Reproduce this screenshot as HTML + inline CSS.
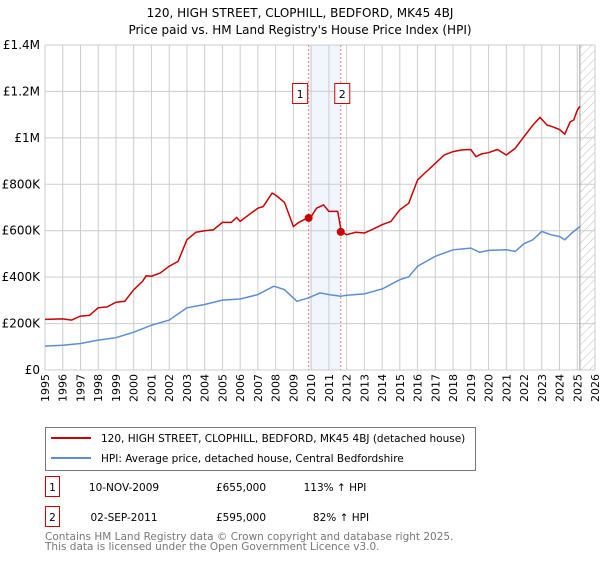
<!DOCTYPE html>
<html><head><meta charset="utf-8"><style>
body{margin:0;background:#fff;font-family:"DejaVu Sans","Liberation Sans",sans-serif;}
svg text{font-family:"DejaVu Sans","Liberation Sans",sans-serif;}
</style></head><body>
<svg id="chart" width="600" height="560" viewBox="0 0 600 560" xmlns="http://www.w3.org/2000/svg">
<defs><pattern id="hatch" width="6" height="6" patternUnits="userSpaceOnUse" patternTransform="rotate(45)"><line x1="0" y1="0" x2="0" y2="6" stroke="#bbb" stroke-width="1"/></pattern></defs>
<text x="300" y="17" text-anchor="middle" font-size="12">120, HIGH STREET, CLOPHILL, BEDFORD, MK45 4BJ</text>
<text x="300" y="34" text-anchor="middle" font-size="12">Price paid vs. HM Land Registry's House Price Index (HPI)</text>
<g id="grid"></g><g id="axes"></g><g id="series"></g>
<rect x="45.5" y="427.5" width="430" height="43" fill="#fff" stroke="#777"/>
<line x1="51" y1="438" x2="91" y2="438" stroke="#cc0000" stroke-width="2"/>
<text x="101" y="442" font-size="10.5">120, HIGH STREET, CLOPHILL, BEDFORD, MK45 4BJ (detached house)</text>
<line x1="51" y1="458" x2="91" y2="458" stroke="#5b8fd4" stroke-width="2"/>
<text x="101" y="462" font-size="10.5">HPI: Average price, detached house, Central Bedfordshire</text>
<g font-size="10.5">
<rect x="45.5" y="476.5" width="14" height="20" fill="#fff" stroke="#cc0000"/>
<text x="52.5" y="491" text-anchor="middle">1</text>
<text x="124" y="491" text-anchor="middle">10-NOV-2009</text>
<text x="241" y="491" text-anchor="middle">£655,000</text>
<text x="335" y="491" text-anchor="middle">113% ↑ HPI</text></g>
<g font-size="10.5">
<rect x="45.5" y="506.5" width="14" height="20" fill="#fff" stroke="#cc0000"/>
<text x="52.5" y="521" text-anchor="middle">2</text>
<text x="124" y="521" text-anchor="middle">02-SEP-2011</text>
<text x="241" y="521" text-anchor="middle">£595,000</text>
<text x="341" y="521" text-anchor="middle">82% ↑ HPI</text></g>
<text x="45" y="540" font-size="10.5" fill="#777">Contains HM Land Registry data © Crown copyright and database right 2025.</text>
<text x="45" y="550" font-size="10.5" fill="#777">This data is licensed under the Open Government Licence v3.0.</text>
</svg>
<script>
const redYears=[1995,1996,1996.5,1997,1997.5,1998,1998.5,1999,1999.5,2000,2000.5,2000.7,2001,2001.5,2002,2002.5,2003,2003.5,2004,2004.5,2005,2005.5,2005.8,2006,2006.5,2007,2007.3,2007.8,2008,2008.5,2009,2009.3,2009.86,2010,2010.3,2010.7,2011,2011.5,2011.65,2011.67,2012,2012.5,2013,2013.5,2014,2014.5,2015,2015.5,2016,2016.5,2017,2017.5,2018,2018.5,2019,2019.3,2019.6,2020,2020.5,2021,2021.5,2022,2022.5,2022.9,2023.3,2023.6,2024,2024.3,2024.6,2024.8,2025,2025.15];
const redValues=[218,220,215,232,235,268,272,292,296,346,382,406,404,418,447,468,561,593,600,604,636,636,657,640,669,697,704,762,754,722,618,636,657,661,697,711,683,683,618,597,583,593,590,607,626,640,690,718,819,855,890,926,941,948,950,919,931,936,950,926,955,1005,1055,1088,1055,1048,1036,1016,1069,1077,1119,1136];
const hpiYears=[1995,1996,1997,1998,1999,2000,2001,2002,2003,2004,2005,2006,2007,2007.9,2008.5,2009.2,2009.86,2010.5,2011,2011.67,2012,2013,2014,2015,2015.5,2016,2017,2018,2019,2019.5,2020,2021,2021.5,2022,2022.5,2023,2023.5,2024,2024.3,2024.7,2025.15];
const hpiValues=[103,107,114,129,139,163,193,215,268,282,301,306,325,361,346,296,311,332,325,318,322,328,349,389,401,447,490,518,525,507,515,518,511,544,561,597,583,575,561,590,618];
const saleYears=[2009.86,2011.67];
const saleValues=[655,595];
const saleLabels=["1","2"];
const yTicks=[0,200,400,600,800,1000,1200,1400];
const yTickLabels=["£0","£200K","£400K","£600K","£800K","£1M","£1.2M","£1.4M"];
const xTicks=[1995,1996,1997,1998,1999,2000,2001,2002,2003,2004,2005,2006,2007,2008,2009,2010,2011,2012,2013,2014,2015,2016,2017,2018,2019,2020,2021,2022,2023,2024,2025,2026];

const X0=45,X1=595,Y0=370,Y1=45;
const xs=y=>X0+(y-1995)/(2026-1995)*(X1-X0);
const ys=v=>Y0-v/1400*(Y0-Y1);
const NS="http://www.w3.org/2000/svg";
function mk(tag,attrs,parent){const e=document.createElementNS(NS,tag);for(const k in attrs)e.setAttribute(k,attrs[k]);parent.appendChild(e);return e;}
const grid=document.getElementById('grid'),axes=document.getElementById('axes'),ser=document.getElementById('series');
const band=mk('rect',{x:xs(saleYears[0]),y:Y1,width:xs(saleYears[1])-xs(saleYears[0]),height:Y0-Y1,fill:'#eef3fc',opacity:0.8},grid);


const hx=xs(2025.15);
const hatch=mk('rect',{x:hx,y:Y1,width:X1-hx,height:Y0-Y1,fill:'url(#hatch)'},grid);


xTicks.forEach(t=>{const l=mk('line',{x1:xs(t),x2:xs(t),y1:Y1,y2:Y0,stroke:'#ccc','stroke-width':1},grid);


const tx=mk('text',{x:0,y:0,'font-size':11,'text-anchor':'end',transform:`translate(${xs(t)+4},${Y0+4}) rotate(-90)`},axes);tx.textContent=t;

});
yTicks.forEach((t,i)=>{const l=mk('line',{x1:X0,x2:X1,y1:ys(t),y2:ys(t),stroke:'#ccc','stroke-width':1},grid);


const tx=mk('text',{x:X0-5,y:ys(t)+4,'font-size':12,'text-anchor':'end'},axes);tx.textContent=yTickLabels[i];

});
const vl=mk('line',{x1:hx,x2:hx,y1:Y1,y2:Y0,stroke:'#999','stroke-width':1},grid);


saleYears.forEach(s=>{const l=mk('line',{x1:xs(s),x2:xs(s),y1:Y1,y2:Y0,stroke:'#f08080','stroke-width':1,'stroke-dasharray':'2,2'},grid);

});
function path(yrs,vals){return yrs.map((y,i)=>(i?'L':'M')+xs(y).toFixed(1)+','+ys(vals[i]).toFixed(1)).join('');}
const hp=mk('path',{d:path(hpiYears,hpiValues),fill:'none',stroke:'#5b8fd4','stroke-width':1.5},ser);


const rp=mk('path',{d:path(redYears,redValues),fill:'none',stroke:'#cc0000','stroke-width':1.5},ser);


saleYears.forEach((s,i)=>{const c=mk('circle',{cx:xs(s),cy:ys(saleValues[i]),r:4,fill:'#cc0000'},ser);


const bx=xs(s)-(i===0?9:-1)-7;
const r=mk('rect',{x:bx,y:83.5,width:15,height:20,fill:'#fff',stroke:'#cc0000'},ser);


const t=mk('text',{x:bx+7.5,y:98,'font-size':11,'text-anchor':'middle'},ser);t.textContent=saleLabels[i];

});
</script>
</body></html>
